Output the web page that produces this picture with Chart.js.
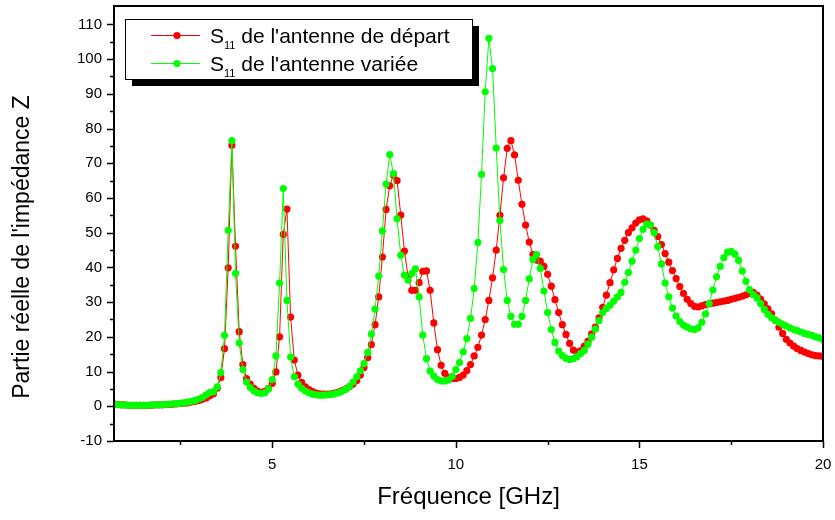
<!DOCTYPE html>
<html lang="fr">
<head>
  <meta charset="UTF-8" />
  <title>Partie réelle de l'impédance Z</title>
  <script src="https://cdn.jsdelivr.net/npm/chart.js"></script>
  <style>
    html, body { margin: 0; padding: 0; background: #fff; }
  </style>
</head>
<body>
  <canvas id="chart" width="835" height="520"></canvas>

  <script>
    // Frequency samples (GHz), shared by both curves
    const freq = [
      0.7, 0.8, 0.9, 1.0, 1.1, 1.2, 1.3, 1.4, 1.5, 1.6,
      1.7, 1.8, 1.9, 2.0, 2.1, 2.2, 2.3, 2.4, 2.5, 2.6,
      2.7, 2.8, 2.9, 3.0, 3.1, 3.2, 3.3, 3.4, 3.5, 3.6,
      3.7, 3.8, 3.9, 4.0, 4.1, 4.2, 4.3, 4.4, 4.5, 4.6,
      4.7, 4.8, 4.9, 5.0, 5.1, 5.2, 5.3, 5.4, 5.5, 5.6,
      5.7, 5.8, 5.9, 6.0, 6.1, 6.2, 6.3, 6.4, 6.5, 6.6,
      6.7, 6.8, 6.9, 7.0, 7.1, 7.2, 7.3, 7.4, 7.5, 7.6,
      7.7, 7.8, 7.9, 8.0, 8.1, 8.2, 8.3, 8.4, 8.5, 8.6,
      8.7, 8.8, 8.9, 9.0, 9.1, 9.2, 9.3, 9.4, 9.5, 9.6,
      9.7, 9.8, 9.9, 10.0, 10.1, 10.2, 10.3, 10.4, 10.5, 10.6,
      10.7, 10.8, 10.9, 11.0, 11.1, 11.2, 11.3, 11.4, 11.5, 11.6,
      11.7, 11.8, 11.9, 12.0, 12.1, 12.2, 12.3, 12.4, 12.5, 12.6,
      12.7, 12.8, 12.9, 13.0, 13.1, 13.2, 13.3, 13.4, 13.5, 13.6,
      13.7, 13.8, 13.9, 14.0, 14.1, 14.2, 14.3, 14.4, 14.5, 14.6,
      14.7, 14.8, 14.9, 15.0, 15.1, 15.2, 15.3, 15.4, 15.5, 15.6,
      15.7, 15.8, 15.9, 16.0, 16.1, 16.2, 16.3, 16.4, 16.5, 16.6,
      16.7, 16.8, 16.9, 17.0, 17.1, 17.2, 17.3, 17.4, 17.5, 17.6,
      17.7, 17.8, 17.9, 18.0, 18.1, 18.2, 18.3, 18.4, 18.5, 18.6,
      18.7, 18.8, 18.9, 19.0, 19.1, 19.2, 19.3, 19.4, 19.5, 19.6,
      19.7, 19.8, 19.9, 20.0
    ];

    // Re(Z), antenne de départ (red)
    const zDepart = [
      0.6, 0.5, 0.4, 0.4, 0.3, 0.3, 0.3, 0.3, 0.3, 0.3,
      0.3, 0.4, 0.4, 0.4, 0.5, 0.5, 0.6, 0.7, 0.8, 0.9,
      1.0, 1.2, 1.4, 1.7, 2.0, 2.4, 3.0, 3.6, 5.2, 8.3,
      16.6, 39.9, 75.2, 46.1, 21.5, 12.0, 8.0, 6.4, 5.2, 4.4,
      4.0, 4.3, 5.2, 6.6, 9.9, 20.0, 49.5, 56.8, 25.7, 13.3,
      9.0, 6.9, 5.6, 4.8, 4.2, 3.8, 3.6, 3.5, 3.5, 3.6,
      3.8, 4.1, 4.5, 5.0, 5.6, 6.4, 7.4, 9.0, 11.2, 14.0,
      17.8, 23.5, 31.5, 43.0, 56.7, 63.5, 66.6, 65.0, 55.1, 44.7,
      37.3, 33.4, 33.4, 35.6, 38.9, 39.0, 33.4, 24.0, 16.3, 11.8,
      9.5, 8.3, 8.0, 8.0, 8.3, 9.0, 10.3, 12.0, 14.5, 17.0,
      20.5, 25.0, 30.5, 37.0, 45.0, 55.0, 65.8, 74.3, 76.5, 72.4,
      65.1, 58.2, 52.2, 47.3, 43.7, 42.1, 41.8, 40.3, 38.0, 34.6,
      30.7, 27.0, 23.5, 20.7, 18.1, 16.2, 15.6, 16.0, 17.3, 18.8,
      20.9, 22.8, 25.5, 28.5, 32.0, 35.6, 39.3, 42.6, 45.5, 47.8,
      50.0, 51.4, 52.8, 53.7, 54.0, 53.4, 52.2, 50.7, 48.9, 46.6,
      44.0, 41.5, 39.1, 36.8, 34.5, 32.5, 30.8, 29.6, 28.8, 28.6,
      28.9, 29.3, 29.5, 29.7, 29.9, 30.1, 30.3, 30.5, 30.8, 31.1,
      31.4, 31.7, 32.1, 32.5, 32.8, 32.0, 30.9, 29.5, 28.1, 26.6,
      24.8, 22.8, 21.0, 19.3, 18.2, 17.3, 16.6, 16.1, 15.6, 15.2,
      14.8, 14.6, 14.5, 14.4
    ];

    // Re(Z), antenne variée (green)
    const zVariee = [
      0.5, 0.5, 0.4, 0.4, 0.3, 0.3, 0.3, 0.3, 0.3, 0.3,
      0.4, 0.4, 0.4, 0.5, 0.5, 0.6, 0.7, 0.8, 0.9, 1.0,
      1.2, 1.4, 1.7, 2.1, 2.6, 3.3, 4.0, 4.2, 5.6, 9.7,
      20.4, 50.7, 76.5, 38.3, 18.2, 10.6, 7.0, 5.4, 4.4, 3.9,
      3.7, 3.9, 5.0, 7.7, 14.5, 35.5, 62.7, 30.5, 14.2, 8.5,
      6.4, 5.2, 4.4, 3.9, 3.5, 3.3, 3.2, 3.2, 3.3, 3.4,
      3.6, 3.9, 4.3, 4.9, 5.7, 7.0, 8.5, 10.2, 12.3, 15.5,
      20.8, 28.0, 37.5, 50.5, 64.0, 72.5, 67.0, 54.0, 43.5, 37.8,
      36.3, 38.2, 39.6, 31.5, 20.5, 13.7, 10.1, 8.7, 7.7, 7.3,
      7.3, 7.6, 8.6, 10.6, 12.6, 15.7, 19.5, 25.3, 33.9, 47.2,
      66.8, 90.6, 106.0, 97.3, 74.4, 53.5, 39.4, 30.5, 25.9, 23.6,
      23.6, 25.9, 30.5, 36.7, 42.3, 43.7, 39.7, 33.2, 27.0, 22.1,
      18.4, 15.9, 14.6, 13.8, 13.5, 13.7, 14.3, 15.2, 16.1, 17.9,
      19.9, 22.2, 24.7, 27.0, 28.2, 29.1, 30.3, 31.5, 32.8, 35.7,
      38.5, 41.8, 45.0, 48.3, 51.0, 52.5, 52.2, 50.0, 46.0, 41.0,
      35.5, 31.5, 28.3, 26.0, 24.4, 23.4, 22.8, 22.3, 22.1, 22.6,
      24.2, 26.6, 29.6, 33.5, 37.3, 40.3, 42.8, 44.4, 44.6, 43.8,
      42.0, 39.0, 36.0, 33.6, 32.2, 31.2, 29.6, 27.9, 26.5, 25.5,
      24.8, 24.2, 23.6, 23.1, 22.6, 22.1, 21.8, 21.4, 21.0, 20.7,
      20.4, 20.0, 19.7, 19.3
    ];

    const xTicks = [5, 10, 15, 20];
    const xMinor = [2.5, 7.5, 12.5, 17.5];
    const yTicks = [-10, 0, 10, 20, 30, 40, 50, 60, 70, 80, 90, 100, 110];
    const yMinor = [-5, 5, 15, 25, 35, 45, 55, 65, 75, 85, 95, 105];

    const legendNames = [" de l'antenne de départ", " de l'antenne variée"];
    const yTitle = "Partie réelle de l'impédance Z";
    const FONT = "'Liberation Sans', Arial, sans-serif";

    // frame, outward ticks, y title and the boxed legend with its shadow
    const framePlugin = {
      id: "frame",
      afterDraw(chart) {
        const ctx = chart.ctx;
        const a = chart.chartArea;
        const xs = chart.scales.x, ys = chart.scales.y;
        ctx.save();
        ctx.strokeStyle = "#000";
        ctx.lineWidth = 2;
        ctx.strokeRect(a.left, a.top, a.right - a.left, a.bottom - a.top);

        ctx.lineWidth = 1.5;
        ctx.beginPath();
        yTicks.forEach(v => {
          const y = Math.round(ys.getPixelForValue(v)) + 0.5;
          ctx.moveTo(a.left - 7, y); ctx.lineTo(a.left, y);
        });
        yMinor.forEach(v => {
          const y = Math.round(ys.getPixelForValue(v)) + 0.5;
          ctx.moveTo(a.left - 4, y); ctx.lineTo(a.left, y);
        });
        xTicks.forEach(v => {
          const x = Math.round(xs.getPixelForValue(v)) + 0.5;
          ctx.moveTo(x, a.bottom); ctx.lineTo(x, a.bottom + 7);
        });
        xMinor.forEach(v => {
          const x = Math.round(xs.getPixelForValue(v)) + 0.5;
          ctx.moveTo(x, a.bottom); ctx.lineTo(x, a.bottom + 4);
        });
        ctx.stroke();

        // y axis title, a little below the middle as in the original
        ctx.save();
        ctx.translate(23, 247);
        ctx.rotate(-Math.PI / 2);
        ctx.fillStyle = "#000";
        ctx.font = "23px " + FONT;
        ctx.textAlign = "center";
        ctx.textBaseline = "middle";
        ctx.fillText(yTitle, 0, 0);
        ctx.restore();

        // legend box
        const bx = 125, by = 19, bw = 347, bh = 60;
        ctx.fillStyle = "#000";
        ctx.fillRect(bx + 7, by + 7, bw, bh);
        ctx.fillStyle = "#fff";
        ctx.fillRect(bx, by, bw, bh);
        ctx.lineWidth = 1;
        ctx.strokeStyle = "#000";
        ctx.strokeRect(bx + 0.5, by + 0.5, bw, bh);

        chart.data.datasets.forEach(ds => {
          const row = ds.legendRow;
          const ly = by + 16 + row * 28;
          ctx.strokeStyle = ds.borderColor;
          ctx.lineWidth = 1;
          ctx.beginPath();
          ctx.moveTo(151, ly + 0.5); ctx.lineTo(200, ly + 0.5);
          ctx.stroke();
          ctx.fillStyle = ds.borderColor;
          ctx.beginPath();
          ctx.arc(177, ly + 0.5, 3.6, 0, Math.PI * 2);
          ctx.fill();

          ctx.fillStyle = "#000";
          ctx.textBaseline = "alphabetic";
          ctx.textAlign = "left";
          let tx = 210;
          const base = ly + 8;
          ctx.font = "21px " + FONT;
          ctx.fillText("S", tx, base);
          tx += ctx.measureText("S").width;
          ctx.font = "11px " + FONT;
          ctx.fillText("11", tx, base + 6);
          tx += ctx.measureText("11").width;
          ctx.font = "21px " + FONT;
          ctx.fillText(legendNames[row], tx, base);
        });
        ctx.restore();
      }
    };

    function pts(values) {
      return freq.map((f, i) => ({ x: f, y: values[i] }));
    }

    const ctx = document.getElementById("chart").getContext("2d");
    new Chart(ctx, {
      type: "line",
      data: {
        datasets: [
          {
            label: "S11 de l'antenne de départ",
            legendRow: 0,
            data: pts(zDepart),
            borderColor: "#ff0000",
            backgroundColor: "#ff0000",
            borderWidth: 1,
            pointRadius: 3.6,
            pointBorderWidth: 0,
            pointBackgroundColor: "#ff0000",
            tension: 0,
            order: 1
          },
          {
            label: "S11 de l'antenne variée",
            legendRow: 1,
            data: pts(zVariee),
            borderColor: "#00ff00",
            backgroundColor: "#00ff00",
            borderWidth: 1,
            pointRadius: 3.6,
            pointBorderWidth: 0,
            pointBackgroundColor: "#00ff00",
            tension: 0,
            order: 0
          }
        ]
      },
      options: {
        responsive: false,
        animation: false,
        devicePixelRatio: 1,
        layout: { padding: { top: 6, right: 12, left: 0, bottom: 0 } },
        scales: {
          x: {
            type: "linear",
            min: 0.69,
            max: 20,
            afterBuildTicks: s => { s.ticks = xTicks.map(v => ({ value: v })); },
            afterFit: s => { s.height = 79; s.paddingLeft = 0; s.paddingRight = 0; },
            grid: { display: false, drawTicks: false },
            border: { display: false },
            ticks: { color: "#000", font: { family: FONT, size: 15 }, padding: 15, maxRotation: 0 },
            title: {
              display: true,
              text: "Fréquence [GHz]",
              color: "#000",
              font: { family: FONT, size: 24 },
              padding: { top: 0, bottom: 8 }
            }
          },
          y: {
            min: -10,
            max: 115.3,
            afterBuildTicks: s => { s.ticks = yTicks.map(v => ({ value: v })); },
            afterFit: s => { s.width = 114; s.paddingTop = 0; s.paddingBottom = 0; },
            grid: { display: false, drawTicks: false },
            border: { display: false },
            ticks: { color: "#000", font: { family: FONT, size: 15 }, padding: 12 }
          }
        },
        plugins: {
          legend: { display: false },
          tooltip: { enabled: false }
        }
      },
      plugins: [framePlugin]
    });
  </script>
</body>
</html>
